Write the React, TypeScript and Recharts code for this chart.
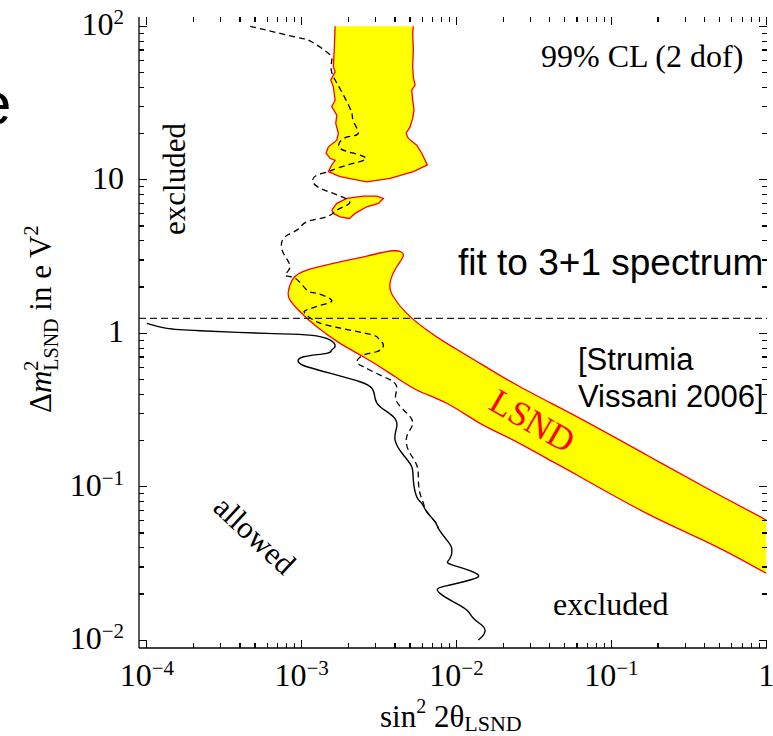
import React from 'react';
import { ScatterChart, Scatter, XAxis, YAxis } from 'recharts';

const SERIF = '"Liberation Serif", "Times New Roman", serif';
const SANS = '"Liberation Sans", Arial, sans-serif';

// axis ranges (frame goes a little past the labelled decades)
const X_MIN = 8.9e-5;
const X_MAX = 1.012;
const Y_MIN = 8.9e-3;
const Y_MAX = 115;

const xTicks = [
  1e-4, 2e-4, 3e-4, 4e-4, 5e-4, 6e-4, 7e-4, 8e-4, 9e-4,
  1e-3, 2e-3, 3e-3, 4e-3, 5e-3, 6e-3, 7e-3, 8e-3, 9e-3,
  1e-2, 2e-2, 3e-2, 4e-2, 5e-2, 6e-2, 7e-2, 8e-2, 9e-2,
  0.1, 0.2, 0.3, 0.4, 0.5, 0.6, 0.7, 0.8, 0.9, 1,
];
const yTicks = [
  1e-2, 2e-2, 3e-2, 4e-2, 5e-2, 6e-2, 7e-2, 8e-2, 9e-2,
  0.1, 0.2, 0.3, 0.4, 0.5, 0.6, 0.7, 0.8, 0.9,
  1, 2, 3, 4, 5, 6, 7, 8, 9,
  10, 20, 30, 40, 50, 60, 70, 80, 90, 100,
];
const xMajor = [1e-4, 1e-3, 1e-2, 1e-1, 1];
const xMajorLabels = [['10', '−4'], ['10', '−3'], ['10', '−2'], ['10', '−1'], ['1', '']];
const yMajor = [1e-2, 1e-1, 1, 10, 100];
const yMajorLabels = [['10', '−2'], ['10', '−1'], ['1', ''], ['10', ''], ['10', '2']];

// LSND allowed region, large-mass part (open at the top edge)
const lsndUpper: [number, number][] = [
  [1.644e-3, 100], [1.626e-3, 73.5], [1.602e-3, 54.5], [1.644e-3, 50.5], [1.541e-3, 44.6],
  [1.602e-3, 40.4], [1.644e-3, 33.0], [1.564e-3, 29.9], [1.686e-3, 26.4], [1.66e-3, 23.3],
  [1.726e-3, 20.1], [1.686e-3, 18.1], [1.487e-3, 16.4], [1.437e-3, 14.9], [1.525e-3, 13.8],
  [1.644e-3, 13.4], [1.564e-3, 12.5], [1.487e-3, 11.3], [1.77e-3, 10.5], [2.633e-3, 9.7],
  [3.722e-3, 10.2], [5.26e-3, 11.3], [6.48e-3, 12.5], [5.96e-3, 14.9], [5.53e-3, 16.8],
  [4.885e-3, 18.6], [4.72e-3, 20.1], [5.01e-3, 22.1], [5.21e-3, 25.1], [5.32e-3, 28.4],
  [5.21e-3, 33.0], [5.14e-3, 38.4], [5.4e-3, 41.4], [5.26e-3, 46.9], [5.21e-3, 54.5],
  [5.26e-3, 70.0], [5.21e-3, 89.9], [5.26e-3, 100],
];

// small island around 7 eV^2
const lsndIsland: [number, number][] = [
  [1.564e-3, 6.35], [1.686e-3, 7.02], [1.955e-3, 7.56], [2.502e-3, 7.83], [3.054e-3, 7.83],
  [3.369e-3, 7.56], [3.128e-3, 7.02], [2.633e-3, 6.67], [2.212e-3, 6.04], [2.032e-3, 5.6],
  [1.77e-3, 5.74], [1.602e-3, 6.04], [1.564e-3, 6.35],
];

// main band: upper edge from x=1 to the tip, then lower edge back to x=1
const lsndBand: [number, number][] = [
  [1, 0.0607], [0.455, 0.0928], [0.169, 0.161], [0.0627, 0.279], [0.0257, 0.448],
  [0.01419, 0.637], [8.65e-3, 0.859], [6.43e-3, 1.049], [4.77e-3, 1.348], [3.91e-3, 1.729],
  [3.72e-3, 2.114], [4.11e-3, 2.712], [4.54e-3, 3.232], [3.91e-3, 3.448], [2.633e-3, 3.184],
  [1.602e-3, 2.854], [1.079e-3, 2.581], [8.84e-4, 2.279], [8.2e-4, 1.864], [8.41e-4, 1.645],
  [9.76e-4, 1.381], [1.252e-3, 1.102], [1.77e-3, 0.859], [2.502e-3, 0.703], [3.72e-3, 0.548],
  [5.53e-3, 0.427], [8.65e-3, 0.35], [0.01419, 0.259], [0.02326, 0.2015], [0.0382, 0.1531],
  [0.0627, 0.1162], [0.169, 0.0671], [0.455, 0.0417], [1, 0.0273],
];
const lsndLabelAt = [{ x: 0.031, y: 0.27 }];

// dashed bound
const dashedBound: [number, number][] = [
  [4.65e-4, 100], [6.57e-4, 92.1], [1.0e-3, 83.4], [1.16e-3, 79.3], [1.49e-3, 66.6],
  [1.56e-3, 58.7], [1.56e-3, 50.5], [1.69e-3, 42.5], [1.91e-3, 33.9], [2.11e-3, 27.1],
  [2.16e-3, 23.9], [2.32e-3, 20.1], [2.0e-3, 19.1], [1.77e-3, 17.7], [1.77e-3, 16.0],
  [2.16e-3, 14.9], [2.6e-3, 13.8], [2.16e-3, 12.8], [1.69e-3, 11.9], [1.49e-3, 11.3],
  [1.25e-3, 10.7], [1.18e-3, 9.7], [1.32e-3, 8.79], [1.6e-3, 8.15], [2.0e-3, 7.37],
  [1.96e-3, 6.84], [1.69e-3, 6.35], [1.45e-3, 5.74], [1.08e-3, 5.33], [9.3e-4, 4.7],
  [7.62e-4, 4.15], [7.62e-4, 3.32], [8.41e-4, 2.71], [7.81e-4, 2.39], [9.07e-4, 2.28],
  [1.08e-3, 1.91], [1.25e-3, 1.82], [1.56e-3, 1.645], [1.35e-3, 1.53], [1.08e-3, 1.42],
  [1.05e-3, 1.35], [1.19e-3, 1.22], [1.45e-3, 1.13], [2.05e-3, 1.05], [2.9e-3, 0.973],
  [3.13e-3, 0.926], [3.37e-3, 0.838], [3.05e-3, 0.758], [2.5e-3, 0.721], [2.27e-3, 0.652],
  [2.5e-3, 0.605], [3.21e-3, 0.534], [3.91e-3, 0.483], [4.11e-3, 0.427], [4.11e-3, 0.358],
  [5.01e-3, 0.286], [5.14e-3, 0.246], [4.77e-3, 0.212], [4.89e-3, 0.173], [5.53e-3, 0.1385],
  [5.67e-3, 0.111], [5.81e-3, 0.0906], [6.11e-3, 0.078], [6.43e-3, 0.0687], [7.26e-3, 0.0592],
  [7.63e-3, 0.0536],
];

// solid bound
const solidBound: [number, number][] = [
  [1e-4, 1.16], [1.35e-4, 1.076], [2.21e-4, 1.038], [5.95e-4, 0.998], [1.13e-3, 0.973],
  [1.53e-3, 0.903], [1.64e-3, 0.817], [1.56e-3, 0.777], [1.45e-3, 0.74], [1.03e-3, 0.703],
  [9.52e-4, 0.652], [1.08e-3, 0.605], [1.69e-3, 0.534], [2.38e-3, 0.483], [2.84e-3, 0.438],
  [2.98e-3, 0.377], [3.21e-3, 0.332], [3.91e-3, 0.286], [4.11e-3, 0.246], [4.01e-3, 0.2015],
  [4.54e-3, 0.161], [5.14e-3, 0.135], [5.26e-3, 0.1106], [5.53e-3, 0.0861], [5.96e-3, 0.078],
  [6.43e-3, 0.0687], [7.26e-3, 0.0592], [7.63e-3, 0.0536], [8.65e-3, 0.045], [9.31e-3, 0.0397],
  [9.08e-3, 0.0342], [8.85e-3, 0.0317], [1.106e-2, 0.0294], [1.383e-2, 0.0266], [1.223e-2, 0.0247],
  [9.08e-3, 0.0229], [7.63e-3, 0.0218], [7.82e-3, 0.0202], [9.54e-3, 0.0178], [1.164e-2, 0.01573],
  [1.284e-2, 0.01389], [1.455e-2, 0.01256], [1.528e-2, 0.01165], [1.49e-2, 0.01081], [1.383e-2, 0.01003],
];

const fitLineY = 1.25;
const fitLine: [number, number][] = [[X_MIN, fitLineY], [X_MAX, fitLineY]];

const toPts = (a: [number, number][]) => a.map(([x, y]) => ({ x, y }));

const majorIndex = (v: number, majors: number[]) =>
  majors.findIndex((m) => Math.abs(v / m - 1) < 1e-6);

// frame tick marks, placed on the four frame edges through the chart scales
const bottomMarks = xTicks.map((x) => ({ x, y: Y_MIN }));
const topMarks = xTicks.map((x) => ({ x, y: Y_MAX }));
const leftMarks = yTicks.map((y) => ({ x: X_MIN, y }));
const rightMarks = yTicks.map((y) => ({ x: X_MAX, y }));

const markStyle = { stroke: '#000', strokeWidth: 1.2, shapeRendering: 'crispEdges' as const };
const tickLen = (major: boolean) => (major ? 8 : 5);

const makeMark = (side: 'b' | 't' | 'l' | 'r') => (p: any) => {
  const { cx, cy, payload } = p;
  if (side === 'b' || side === 't') {
    const len = tickLen(majorIndex(payload.x, xMajor) >= 0);
    const d = side === 'b' ? -len : len;
    return <line x1={cx} x2={cx} y1={cy} y2={cy + d} {...markStyle} />;
  }
  const len = tickLen(majorIndex(payload.y, yMajor) >= 0);
  const d = side === 'l' ? len : -len;
  return <line x1={cx} x2={cx + d} y1={cy} y2={cy} {...markStyle} />;
};

const NoDot = () => <g />;

const LsndText = (p: any) => (
  <text
    x={p.cx}
    y={p.cy}
    dy="0.35em"
    textAnchor="middle"
    transform={`rotate(30 ${p.cx} ${p.cy})`}
    fontFamily={SERIF}
    fontSize={35}
    fill="#ff0000"
  >
    LSND
  </text>
);

const Label10 = ({ lab, ...rest }: any) => (
  <text fontFamily={SERIF} fontSize={32} fill="#000" {...rest}>
    {lab[0]}
    {lab[1] ? <tspan dy={-11} fontSize={21}>{lab[1]}</tspan> : null}
  </text>
);

const BottomTick = (props: any) => {
  const { x, y, payload } = props;
  const i = majorIndex(payload.value, xMajor);
  if (i < 0) return <g />;
  return <Label10 lab={xMajorLabels[i]} x={x} y={y + 38} textAnchor="middle" />;
};

const LeftTick = (props: any) => {
  const { x, y, payload } = props;
  const i = majorIndex(payload.value, yMajor);
  if (i < 0) return <g />;
  return <Label10 lab={yMajorLabels[i]} x={x - 15} y={y + 9} textAnchor="end" />;
};

export default function App() {
  const common = {
    xAxisId: 'b',
    yAxisId: 'l',
    isAnimationActive: false,
    shape: NoDot,
  } as const;

  return (
    <div style={{ position: 'absolute', left: 0, top: 0, width: 773, height: 736, background: '#fff' }}>
      <ScatterChart width={773} height={736} margin={{ top: 17, right: 6, bottom: 0, left: 0 }}>
        <XAxis
          xAxisId="b"
          orientation="bottom"
          type="number"
          dataKey="x"
          scale="log"
          domain={[X_MIN, X_MAX]}
          allowDataOverflow
          ticks={xMajor}
          interval={0}
          height={88}
          tickSize={0}
          tickMargin={0}
          tickLine={false}
          axisLine={{ stroke: '#000', strokeWidth: 1.3 }}
          tick={BottomTick}
        />
        <XAxis
          xAxisId="t"
          orientation="top"
          type="number"
          dataKey="x"
          scale="log"
          domain={[X_MIN, X_MAX]}
          allowDataOverflow
          height={0}
          tick={false}
          tickLine={false}
          axisLine={{ stroke: '#000', strokeWidth: 1.3 }}
        />
        <YAxis
          yAxisId="l"
          orientation="left"
          type="number"
          dataKey="y"
          scale="log"
          domain={[Y_MIN, Y_MAX]}
          allowDataOverflow
          ticks={yMajor}
          interval={0}
          width={139}
          tickSize={0}
          tickMargin={0}
          tickLine={false}
          axisLine={{ stroke: '#000', strokeWidth: 1.3 }}
          tick={LeftTick}
        />
        <YAxis
          yAxisId="r"
          orientation="right"
          type="number"
          dataKey="y"
          scale="log"
          domain={[Y_MIN, Y_MAX]}
          allowDataOverflow
          width={0}
          tick={false}
          tickLine={false}
          axisLine={{ stroke: '#000', strokeWidth: 1.3 }}
        />

        <Scatter {...common} data={toPts(lsndUpper)}
          line={{ fill: '#ffff00', stroke: '#ff0000', strokeWidth: 1.3 }} />
        <Scatter {...common} data={toPts(lsndIsland)}
          line={{ fill: '#ffff00', stroke: '#ff0000', strokeWidth: 1.3 }} />
        <Scatter {...common} data={toPts(lsndBand)} lineJointType="natural"
          line={{ fill: '#ffff00', stroke: '#ff0000', strokeWidth: 1.3 }} />
        <Scatter {...common} data={lsndLabelAt} shape={LsndText} />

        <Scatter {...common} data={toPts(solidBound)} lineJointType="natural"
          line={{ fill: 'none', stroke: '#000', strokeWidth: 1.4 }} />
        <Scatter {...common} data={toPts(dashedBound)} lineJointType="natural"
          line={{ fill: 'none', stroke: '#000', strokeWidth: 1.3, strokeDasharray: '6 4' }} />
        <Scatter {...common} data={toPts(fitLine)}
          line={{ fill: 'none', stroke: '#222', strokeWidth: 1.3, strokeDasharray: '7 4' }} />

        <Scatter {...common} data={bottomMarks} shape={makeMark('b')} />
        <Scatter {...common} data={topMarks} shape={makeMark('t')} />
        <Scatter {...common} data={leftMarks} shape={makeMark('l')} />
        <Scatter {...common} data={rightMarks} shape={makeMark('r')} />

        {/* annotations */}
        <text x={-22} y={124} fontFamily={SANS} fontSize={60} fill="#000">e</text>
        <text x={541} y={67} fontFamily={SERIF} fontSize={32} fill="#000">99% CL (2 dof)</text>
        <text x={458} y={275} fontFamily={SANS} fontSize={37} fill="#000">fit to 3+1 spectrum</text>
        <text x={578} y={370} fontFamily={SANS} fontSize={31} fill="#000">[Strumia</text>
        <text x={578} y={407} fontFamily={SANS} fontSize={31} fill="#000">Vissani 2006]</text>
        <text x={-179} y={185} textAnchor="middle" transform="rotate(-90)"
          fontFamily={SERIF} fontSize={31} fill="#000">excluded</text>
        <text x={255} y={535} dy="0.35em" textAnchor="middle" transform="rotate(43 255 535)"
          fontFamily={SERIF} fontSize={31} fill="#000">allowed</text>
        <text x={553} y={615} fontFamily={SERIF} fontSize={32} fill="#000">excluded</text>

        {/* axis titles */}
        <text x={380} y={727} fontFamily={SERIF} fontSize={31} fill="#000">
          sin<tspan fontSize={20} dy={-14}>2</tspan>
          <tspan dy={14}> 2θ</tspan>
          <tspan fontSize={22} dy={4}>LSND</tspan>
        </text>
        <text x={-413} y={51} transform="rotate(-90)" fontFamily={SERIF} fontSize={31} fill="#000">
          Δ<tspan fontStyle="italic">m</tspan>
          <tspan fontSize={20} dy={-13}>2</tspan>
          <tspan fontSize={20} dx={-10} dy={20}>LSND</tspan>
          <tspan dy={-7}> in e V</tspan>
          <tspan fontSize={20} dy={-13}>2</tspan>
        </text>
      </ScatterChart>
    </div>
  );
}
